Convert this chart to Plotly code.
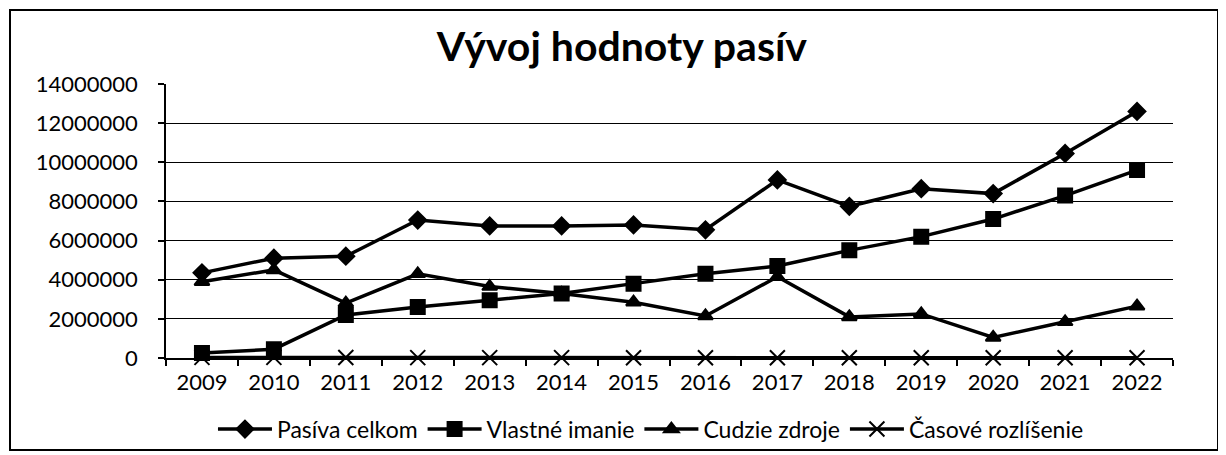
import plotly.graph_objects as go

years = ["2009", "2010", "2011", "2012", "2013", "2014", "2015",
         "2016", "2017", "2018", "2019", "2020", "2021", "2022"]
pasiva_celkom = [4350000, 5100000, 5200000, 7050000, 6750000, 6750000, 6800000,
                 6550000, 9100000, 7750000, 8650000, 8400000, 10450000, 12600000]
vlastne_imanie = [250000, 450000, 2200000, 2600000, 2950000, 3300000, 3800000,
                  4300000, 4700000, 5500000, 6200000, 7100000, 8300000, 9600000]
cudzie_zdroje = [3900000, 4500000, 2800000, 4300000, 3650000, 3300000, 2850000,
                 2150000, 4150000, 2100000, 2250000, 1050000, 1850000, 2650000]
casove_rozlisenie = [30000, 30000, 25000, 20000, 20000, 20000, 15000,
                     15000, 15000, 10000, 10000, 10000, 10000, 10000]

FONT = "Lato"

fig = go.Figure()
series = [
    ("Pasíva celkom", pasiva_celkom, "diamond", 13),
    ("Vlastné imanie", vlastne_imanie, "square", 14),
    ("Cudzie zdroje", cudzie_zdroje, "triangle-up", 13),
    ("Časové rozlíšenie", casove_rozlisenie, "x-thin-open", 15),
]
for name, vals, sym, size in series:
    fig.add_trace(go.Scatter(
        x=years, y=vals, name=name, mode="lines+markers",
        line=dict(color="black", width=3.5),
        marker=dict(symbol=sym, size=size, color="black",
                    line=dict(color="black", width=2)),
        cliponaxis=False,
    ))

W, H = 1218, 447
L, T, R, B = 158, 76, 53, 97
PW = W - L - R
PH = H - T - B

fig.update_layout(
    width=W, height=H,
    margin=dict(l=L, r=R, t=T, b=B),
    paper_bgcolor="white", plot_bgcolor="white",
    font=dict(family=FONT, size=22, color="black"),
    title=dict(text="<b>Vývoj hodnoty pasív</b>", x=0.504, y=0.913,
               xref="container", yref="container",
               xanchor="center", yanchor="middle",
               font=dict(family=FONT, size=41, color="black")),
    showlegend=True,
    legend=dict(orientation="h", x=0.4816, y=0.058, xanchor="center",
                yanchor="middle", yref="container",
                bgcolor="rgba(0,0,0,0)",
                font=dict(family=FONT, size=23),
                itemwidth=54, tracegroupgap=0),
    xaxis=dict(type="category", tickson="boundaries", ticks="outside",
               ticklen=6, tickcolor="black", tickwidth=1.5,
               showline=True, linecolor="black", linewidth=1.5,
               showgrid=False, range=[-0.5, 13.5],
               ticklabelstandoff=4,
               tickfont=dict(family=FONT, size=22)),
    yaxis=dict(range=[0, 14000000], dtick=2000000, tickformat="d",
               ticks="outside", ticklen=6, tickcolor="black", tickwidth=1.5,
               showline=True, linecolor="black", linewidth=1.5,
               showgrid=True, gridcolor="black", gridwidth=1.2,
               zeroline=False, ticklabelstandoff=16,
               tickfont=dict(family=FONT, size=22)),
    shapes=[dict(type="rect", xref="paper", yref="paper",
                 x0=(2 - L) / PW, x1=(W - 8 - L) / PW,
                 y0=(H - B - (H - 5)) / PH, y1=(H - B - 2) / PH,
                 line=dict(color="black", width=2), layer="below")],
)

fig.write_html("out.html")
